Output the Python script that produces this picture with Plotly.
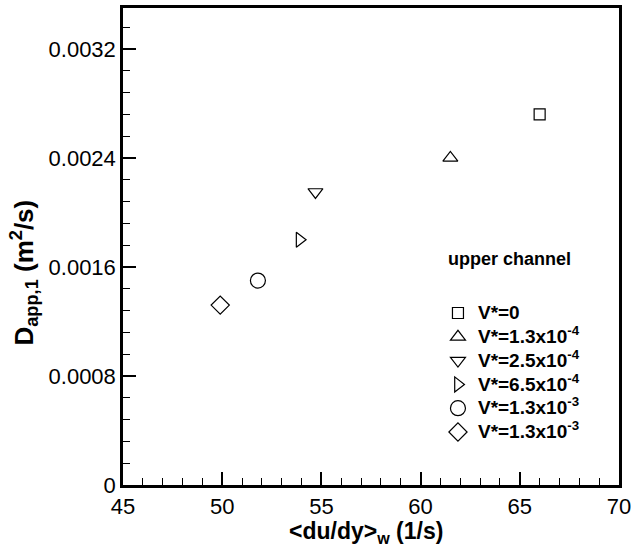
import plotly.graph_objects as go

# Data
series_names = [
    "V*=0",
    "V*=1.3x10<sup>-4</sup>",
    "V*=2.5x10<sup>-4</sup>",
    "V*=6.5x10<sup>-4</sup>",
    "V*=1.3x10<sup>-3</sup>",
    "V*=1.3x10<sup>-3</sup>",
]
shear_rate = [66.0, 61.5, 54.7, 53.9, 51.8, 49.9]
d_app = [0.00272, 0.00240, 0.00215, 0.00180, 0.00150, 0.00132]
symbols = ["square-open", "triangle-up-open", "triangle-down-open",
           "triangle-right-open", "circle-open", "diamond-open"]
sizes = [11, 13, 13, 13, 15, 14]

x_ticks = [45, 50, 55, 60, 65, 70]
x_tick_labels = ["45", "50", "55", "60", "65", "70"]
y_ticks = [0, 0.0008, 0.0016, 0.0024, 0.0032]
y_tick_labels = ["0", "0.0008", "0.0016", "0.0024", "0.0032"]

x_title = "&lt;du/dy&gt;<sub>w</sub> (1/s)"
y_title = "D<sub>app,1</sub> (m<sup>2</sup>/s)"
legend_title = "upper channel"

FONT = "Liberation Sans, Arial, Helvetica, sans-serif"
TICKFONT = dict(family=FONT, size=22, color="black")

fig = go.Figure()
for name, x, y, sym, sz in zip(series_names, shear_rate, d_app, symbols, sizes):
    fig.add_trace(go.Scatter(
        x=[x], y=[y], mode="markers",
        name='<span style="font-size:19px">' + name + "</span>",
        marker=dict(symbol=sym, size=sz, color="black", line=dict(width=1.2, color="black")),
    ))

fig.update_xaxes(
    range=[45, 70], tickmode="array", tickvals=x_ticks, ticktext=x_tick_labels,
    showline=True, linewidth=2.5, linecolor="black", mirror=True,
    ticks="inside", ticklen=13, tickwidth=2, tickcolor="black",
    showgrid=False, zeroline=False, tickfont=TICKFONT,
    minor=dict(ticks="inside", ticklen=7, tickwidth=1, tickcolor="black", dtick=1, tick0=45),
)
fig.update_yaxes(
    range=[0, 0.0035], tickmode="array", tickvals=y_ticks, ticktext=y_tick_labels,
    showline=True, linewidth=2.5, linecolor="black", mirror=True,
    ticks="inside", ticklen=13, tickwidth=2, tickcolor="black",
    showgrid=False, zeroline=False, tickfont=TICKFONT,
    minor=dict(ticks="inside", ticklen=7, tickwidth=1, tickcolor="black", dtick=0.00016, tick0=0),
)

# axis titles
fig.add_annotation(
    x=0.49, y=-0.1, xref="paper", yref="paper", xanchor="center", yanchor="middle",
    text="<b>" + x_title + "</b>", showarrow=False,
    font=dict(family=FONT, size=23, color="black"),
)
fig.add_annotation(
    x=-0.2, y=0.445, xref="paper", yref="paper", xanchor="center", yanchor="middle",
    text="<b>" + y_title + "</b>", showarrow=False, textangle=-90,
    font=dict(family=FONT, size=26, color="black"),
)

fig.add_annotation(
    x=0.651, y=0.473, xref="paper", yref="paper", xanchor="left", yanchor="middle",
    text="<b>" + legend_title + "</b>", showarrow=False,
    font=dict(family=FONT, size=18, color="black"),
)

fig.update_layout(
    width=636, height=553,
    margin=dict(l=123, r=13, t=5, b=68),
    paper_bgcolor="white", plot_bgcolor="white",
    showlegend=True,
    legend=dict(
        x=0.635, y=0.396, xanchor="left", yanchor="top",
        bgcolor="rgba(0,0,0,0)", borderwidth=0,
        font=dict(family=FONT, size=16, color="black", weight="bold"),
        itemwidth=30, tracegroupgap=0,
    ),
)

fig.write_html("out.html")
